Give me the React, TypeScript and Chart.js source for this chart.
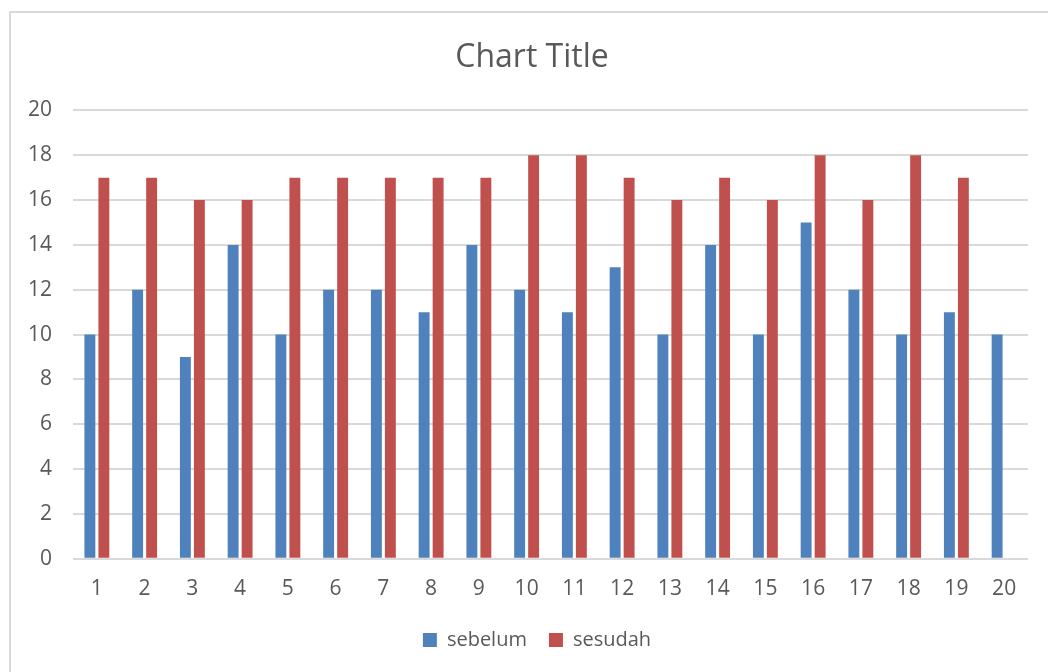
import React, { useEffect, useRef } from "react";
import { Chart, registerables } from "chart.js";

Chart.register(...registerables);

const categories = ["1","2","3","4","5","6","7","8","9","10","11","12","13","14","15","16","17","18","19","20"];
const sebelum = [10, 12, 9, 14, 10, 12, 12, 11, 14, 12, 11, 13, 10, 14, 10, 15, 12, 10, 11, 10];
const sesudah = [17, 17, 16, 16, 17, 17, 17, 17, 17, 18, 18, 17, 16, 17, 16, 18, 16, 18, 17, null];
const seriesNames = ["sebelum", "sesudah"];
const titleText = "Chart Title";

const FONT = "'Open Sans', 'DejaVu Sans', sans-serif";
const TEXT = "#595959";

const borderPlugin = {
  id: "outerBorder",
  beforeDraw(chart: any) {
    const ctx = chart.ctx;
    ctx.save();
    ctx.fillStyle = "#ffffff";
    ctx.fillRect(0, 0, chart.width, chart.height);
    ctx.strokeStyle = "#d9d9d9";
    ctx.lineWidth = 2;
    ctx.strokeRect(10, 12, chart.width + 100, chart.height + 100);
    ctx.restore();
  },
};

// center title and legend on the outer chart frame rather than on the canvas
const shiftPlugin = {
  id: "shiftBoxes",
  afterLayout(chart: any) {
    const t = chart.titleBlock;
    if (t) { t.left += 18; t.right += 18; }
    const l = chart.legend;
    if (l) {
      l.left += 23; l.right += 23;
      if (l.legendHitBoxes) l.legendHitBoxes.forEach((h: any) => { h.left += 23; });
    }
  },
};

export default function App() {
  const ref = useRef<HTMLCanvasElement | null>(null);
  useEffect(() => {
    if (!ref.current) return;
    const chart = new Chart(ref.current, {
      type: "bar",
      data: {
        labels: categories,
        datasets: [
          {
            label: seriesNames[0],
            data: sebelum,
            backgroundColor: "#4f81bd",
            categoryPercentage: 0.586,
            barPercentage: 0.78,
          },
          {
            label: seriesNames[1],
            data: sesudah as any,
            backgroundColor: "#c0504d",
            categoryPercentage: 0.586,
            barPercentage: 0.78,
          },
        ],
      },
      options: {
        animation: false,
        responsive: true,
        maintainAspectRatio: false,
        layout: { padding: { left: 0, right: 20, top: 8, bottom: 12 } },
        plugins: {
          title: {
            display: true,
            text: titleText,
            color: TEXT,
            font: { family: FONT, size: 32, weight: "normal" as any },
            padding: { top: 31, bottom: 33 },
          },
          legend: {
            position: "bottom",
            labels: {
              color: TEXT,
              font: { family: FONT, size: 20 },
              boxWidth: 14,
              boxHeight: 14,
              padding: 22,
            },
          },
          tooltip: { enabled: false },
        },
        scales: {
          x: {
            grid: { display: false, drawTicks: false },
            border: { display: false },
            ticks: { color: TEXT, font: { family: FONT, size: 21 }, padding: 18, maxRotation: 0, autoSkip: false },
            afterFit(scale: any) {
              scale.height = scale.height - 12;
            },
          },
          y: {
            min: 0,
            max: 20,
            ticks: { stepSize: 2, color: TEXT, font: { family: FONT, size: 21 }, padding: 21 },
            grid: { color: "#d9d9d9", lineWidth: 2, drawTicks: false },
            border: { display: false },
            afterFit(scale: any) {
              scale.width = 73;
            },
          },
        },
      },
      plugins: [borderPlugin, shiftPlugin],
    });
    return () => chart.destroy();
  }, []);
  return (
    <div style={{ position: "fixed", left: 0, top: 0, width: 1048, height: 672, background: "#fff" }}>
      <canvas ref={ref} />
    </div>
  );
}
